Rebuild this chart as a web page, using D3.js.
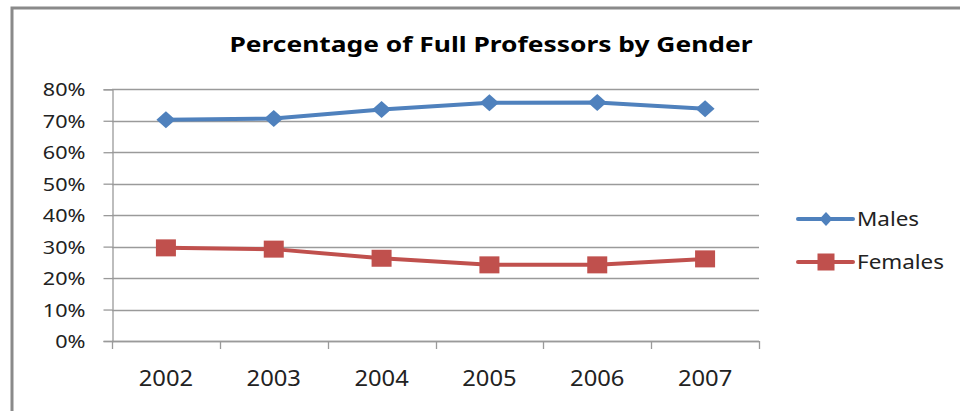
<!DOCTYPE html>
<html>
<head>
<meta charset="utf-8">
<script src="https://cdn.jsdelivr.net/npm/d3@7"></script>
<style>
  body { margin: 0; background: #fff; }
  svg { display: block; }
</style>
</head>
<body>
<div id="chart"></div>
<script>
const years = ["2002", "2003", "2004", "2005", "2006", "2007"];
const males = [0.703, 0.707, 0.736, 0.757, 0.758, 0.738];
const females = [0.296, 0.292, 0.263, 0.242, 0.242, 0.261];
const yTicks = [0, 0.1, 0.2, 0.3, 0.4, 0.5, 0.6, 0.7, 0.8];
const seriesNames = ["Males", "Females"];

var width = 960, height = 411;
var margin = { top: 89.3, right: 201, bottom: 70, left: 112 };

var svg = d3.select("#chart")
  .append("svg")
  .attr("width", width)
  .attr("height", height);

// outer chart frame (only top and left edge show in the picture)
svg.append("rect")
  .attr("x", 12)
  .attr("y", 8)
  .attr("width", 980)
  .attr("height", 440)
  .attr("fill", "none")
  .attr("stroke", "#8a8a8a")
  .attr("stroke-width", 3);

svg.append("text")
  .attr("x", 491)
  .attr("y", 52)
  .attr("text-anchor", "middle")
  .attr("textLength", 523)
  .attr("lengthAdjust", "spacingAndGlyphs")
  .style("font-family", "'Noto Sans', sans-serif")
  .style("font-weight", "bold")
  .style("font-size", "22px")
  .style("fill", "#000")
  .text("Percentage of Full Professors by Gender");

var x = d3.scaleBand()
  .domain(years)
  .range([margin.left, width - margin.right]);

var y = d3.scaleLinear()
  .domain([0, 0.8])
  .range([341, margin.top]);

var grey = "#9a9a9a";

// gridlines
svg.append("g")
  .selectAll("line")
  .data(yTicks)
  .enter()
  .append("line")
  .attr("x1", margin.left)
  .attr("x2", width - margin.right)
  .attr("y1", d => Math.round(y(d)) + 0.5)
  .attr("y2", d => Math.round(y(d)) + 0.5)
  .attr("stroke", grey)
  .attr("stroke-width", 1.3);

// y axis (labels stretched a bit wider, like the original)
var ySx = 1.2;
var yAxis = svg.append("g")
  .attr("transform", "translate(" + (margin.left + 0.5) + ",0)")
  .call(d3.axisLeft(y).tickValues(yTicks).tickFormat(d3.format(".0%")).tickSize(9).tickPadding(17));
yAxis.select(".domain").attr("stroke", grey).attr("stroke-width", 1.3);
yAxis.selectAll(".tick line").attr("stroke", grey).attr("stroke-width", 1.3);
yAxis.selectAll(".tick text")
  .attr("x", -27 / ySx)
  .attr("transform", "scale(" + ySx + ",1)")
  .attr("dy", "0.36em")
  .style("font-family", "'Noto Sans', sans-serif")
  .style("font-size", "18px")
  .style("fill", "#222");

// x axis: tick marks on the category boundaries
var xAxis = svg.append("g");
xAxis.append("line")
  .attr("x1", margin.left)
  .attr("x2", width - margin.right)
  .attr("y1", y(0) + 0.5)
  .attr("y2", y(0) + 0.5)
  .attr("stroke", grey)
  .attr("stroke-width", 1.3);
var bounds = years.map(d => x(d)).concat([x.range()[1]]);
xAxis.selectAll("line.bnd")
  .data(bounds)
  .enter()
  .append("line")
  .attr("class", "bnd")
  .attr("x1", d => Math.round(d) + 0.5)
  .attr("x2", d => Math.round(d) + 0.5)
  .attr("y1", y(0))
  .attr("y2", y(0) + 8)
  .attr("stroke", grey)
  .attr("stroke-width", 1.3);
xAxis.selectAll("text")
  .data(years)
  .enter()
  .append("text")
  .attr("transform", d => "translate(" + (x(d) + x.bandwidth() / 2) + "," + (y(0) + 45) + ") scale(1.08,1)")
  .attr("text-anchor", "middle")
  .style("font-family", "'Noto Sans', sans-serif")
  .style("font-size", "22px")
  .style("fill", "#222")
  .text(d => d);

var line = d3.line()
  .x((d, i) => x(years[i]) + x.bandwidth() / 2)
  .y(d => y(d));

var blue = "#4f81bd", red = "#c0504d";

function diamond(g, cx, cy, w, h, color) {
  g.append("path")
    .attr("d", "M" + cx + "," + (cy - h / 2) + "L" + (cx + w / 2) + "," + cy +
      "L" + cx + "," + (cy + h / 2) + "L" + (cx - w / 2) + "," + cy + "Z")
    .attr("fill", color);
}
function square(g, cx, cy, w, h, color) {
  g.append("rect")
    .attr("x", cx - w / 2)
    .attr("y", cy - h / 2)
    .attr("width", w)
    .attr("height", h)
    .attr("fill", color);
}

var gm = svg.append("g");
gm.append("path")
  .datum(males)
  .attr("d", line)
  .attr("fill", "none")
  .attr("stroke", blue)
  .attr("stroke-width", 4);
males.forEach(function(v, i) {
  diamond(gm, x(years[i]) + x.bandwidth() / 2, y(v), 19, 17, blue);
});

var gf = svg.append("g");
gf.append("path")
  .datum(females)
  .attr("d", line)
  .attr("fill", "none")
  .attr("stroke", red)
  .attr("stroke-width", 4);
females.forEach(function(v, i) {
  square(gf, x(years[i]) + x.bandwidth() / 2, y(v), 20, 17, red);
});

// legend
var legend = svg.append("g");
var legY = [219, 262];
seriesNames.forEach(function(name, i) {
  var color = i === 0 ? blue : red;
  legend.append("line")
    .attr("x1", 798)
    .attr("x2", 853)
    .attr("y1", legY[i])
    .attr("y2", legY[i])
    .attr("stroke", color)
    .attr("stroke-width", 4)
    .attr("stroke-linecap", "round");
  if (i === 0) diamond(legend, 826, legY[i], 13, 14, color);
  else square(legend, 826, legY[i], 17, 17, color);
  legend.append("text")
    .attr("transform", "translate(857," + (legY[i] + 7) + ") scale(1.15,1)")
    .style("font-family", "'Noto Sans', sans-serif")
    .style("font-size", "19.5px")
    .style("fill", "#222")
    .text(name);
});
</script>
</body>
</html>
